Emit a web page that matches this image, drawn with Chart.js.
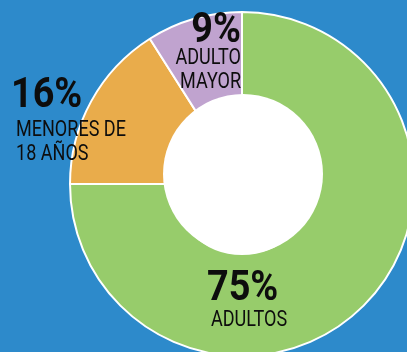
<!DOCTYPE html>
<html>
<head>
<meta charset="utf-8">
<script src="https://cdn.jsdelivr.net/npm/chart.js@4.4.1/dist/chart.umd.min.js"></script>
<style>
  html, body { margin: 0; padding: 0; overflow: hidden; background: #2d8acb; }
  #wrap { width: 420px; height: 360px; }
</style>
</head>
<body>
<div id="wrap"><canvas id="poblacion" width="420" height="360"></canvas></div>
<script>
// distribución de la población por grupo de edad
const grupos = ['ADULTOS', 'MENORES DE|18 AÑOS', 'ADULTO|MAYOR'];
const porcentajes = [75, 16, 9];
const colores = ['#97cc6b', '#e9ac4b', '#c0a3cf'];

// dónde va cada rótulo: [x, y del porcentaje, alineación, x del texto, y de la primera línea]
const rotulos = [
    { px: 207, py: 300, align: 'left', tx: 211, ty: 326 },
    { px: 11, py: 107, align: 'left', tx: 16, ty: 136 },
    { px: 241, py: 42, align: 'right', tx: 241, ty: 64 }
];

// texto estrecho: se comprime en horizontal
function textoEstrecho(ctx, txt, x, y, align, escala) {
    ctx.save();
    ctx.translate(x, y);
    ctx.scale(escala, 1);
    ctx.textAlign = align;
    ctx.fillText(txt, 0, 0);
    ctx.restore();
}

// hueco blanco del anillo (un poco desplazado hacia arriba) y rótulos
const rotulosPlugin = {
    id: 'rotulos',
    afterDatasetsDraw(chart) {
        const ctx = chart.ctx;
        const arc = chart.getDatasetMeta(0).data[0];
        ctx.save();
        ctx.fillStyle = '#ffffff';
        ctx.beginPath();
        ctx.arc(arc.x + 1, arc.y - 10, arc.innerRadius + 10, 0, Math.PI * 2);
        ctx.fill();

        ctx.fillStyle = '#0d0d0d';
        ctx.textBaseline = 'alphabetic';
        porcentajes.forEach((v, i) => {
            const r = rotulos[i];
            ctx.font = 'bold 42px Roboto';
            textoEstrecho(ctx, v + '%', r.px, r.py, r.align, 0.9);
            ctx.font = '22px Roboto';
            grupos[i].split('|').forEach((linea, k) => {
                textoEstrecho(ctx, linea, r.tx, r.ty + k * 24, r.align, 0.82);
            });
        });
        ctx.restore();
    }
};

new Chart(document.getElementById('poblacion'), {
    type: 'doughnut',
    data: {
        labels: grupos,
        datasets: [{
            data: porcentajes,
            backgroundColor: colores,
            borderColor: '#ffffff',
            borderWidth: 2,
            hoverOffset: 0
        }]
    },
    options: {
        responsive: false,
        animation: false,
        cutout: 70,
        layout: { padding: { left: 69, right: 5, top: 11, bottom: 3 } },
        plugins: {
            legend: { display: false },
            tooltip: { enabled: false }
        }
    },
    plugins: [rotulosPlugin]
});
</script>
</body>
</html>
